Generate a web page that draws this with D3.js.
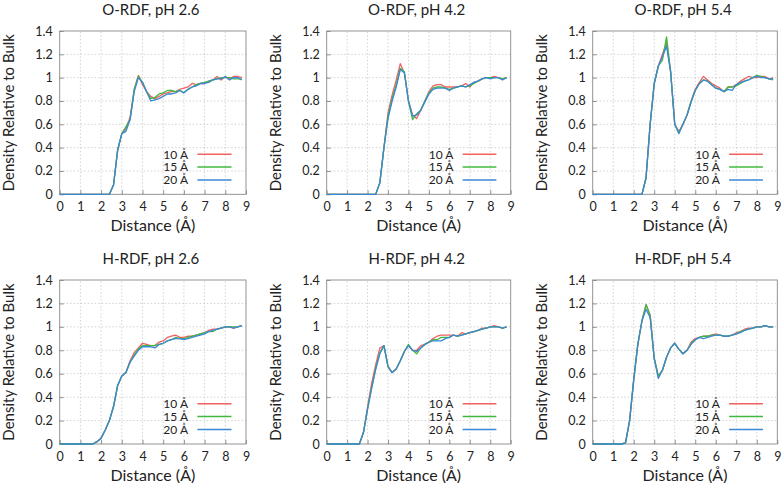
<!DOCTYPE html>
<html><head><meta charset="utf-8">
<script src="https://cdn.jsdelivr.net/npm/d3@7"></script>
<style>body{margin:0;background:#fff}svg{display:block}text{font-family:Lato,"Open Sans",sans-serif;fill:#222}</style>
</head><body><svg id="c" width="781" height="483"></svg>
<script>
const distance = [0,0.2,0.4,0.6,0.8,1.0,1.2,1.4,1.6,1.8,2.0,2.2,2.4,2.6,2.8,3.0,3.2,3.4,3.6,3.8,4.0,4.2,4.4,4.6,4.8,5.0,5.2,5.4,5.6,5.8,6.0,6.2,6.4,6.6,6.8,7.0,7.2,7.4,7.6,7.8,8.0,8.2,8.4,8.6,8.8];
const seriesNames = ["10 Å","15 Å","20 Å"];
const seriesColors = ["#f06262","#40b840","#3a88d6"];
const panelTitles = ["O-RDF, pH 2.6","O-RDF, pH 4.2","O-RDF, pH 5.4","H-RDF, pH 2.6","H-RDF, pH 4.2","H-RDF, pH 5.4"];
const xTicks = [0,1,2,3,4,5,6,7,8,9];
const yTicks = [0,0.2,0.4,0.6,0.8,1,1.2,1.4];

// O-RDF pH 2.6
const o26_10 = [0,0,0,0,0,0,0,0,0,0,0,0,0,0.08,0.38,0.52,0.56,0.66,0.90,1.02,0.94,0.88,0.84,0.82,0.84,0.86,0.87,0.88,0.88,0.90,0.91,0.92,0.95,0.94,0.95,0.95,0.97,0.98,1.01,0.98,1.01,0.99,1.01,1.01,1.00];
const o26_15 = [0,0,0,0,0,0,0,0,0,0,0,0,0,0.08,0.38,0.52,0.58,0.64,0.90,1.01,0.96,0.88,0.82,0.83,0.86,0.87,0.89,0.89,0.88,0.89,0.87,0.90,0.92,0.94,0.95,0.96,0.97,0.98,0.99,1.00,1.00,1.00,0.99,0.99,0.99];
const o26_20 = [0,0,0,0,0,0,0,0,0,0,0,0,0,0.08,0.38,0.52,0.54,0.64,0.88,1.00,0.96,0.88,0.80,0.81,0.82,0.84,0.86,0.86,0.87,0.89,0.87,0.90,0.92,0.93,0.95,0.95,0.96,0.98,0.99,0.99,1.01,0.98,1.00,1.00,0.98];
// O-RDF pH 4.2
const o42_10 = [0,0,0,0,0,0,0,0,0,0,0,0,0,0.10,0.40,0.70,0.85,0.98,1.12,1.04,0.80,0.68,0.65,0.72,0.80,0.88,0.93,0.94,0.94,0.92,0.92,0.92,0.92,0.93,0.95,0.92,0.96,0.97,0.99,1.00,1.00,1.01,1.00,0.99,1.00];
const o42_15 = [0,0,0,0,0,0,0,0,0,0,0,0,0,0.10,0.40,0.67,0.82,0.94,1.08,1.05,0.80,0.64,0.69,0.72,0.80,0.87,0.91,0.92,0.92,0.91,0.90,0.91,0.92,0.93,0.92,0.93,0.95,0.97,0.99,1.00,1.00,1.00,1.00,0.99,1.00];
const o42_20 = [0,0,0,0,0,0,0,0,0,0,0,0,0,0.10,0.40,0.65,0.80,0.92,1.07,1.04,0.80,0.67,0.68,0.72,0.79,0.86,0.90,0.91,0.91,0.91,0.89,0.91,0.92,0.93,0.92,0.94,0.96,0.97,0.99,1.00,0.99,1.00,1.00,0.98,1.00];
// O-RDF pH 5.4
const o54_10 = [0,0,0,0,0,0,0,0,0,0,0,0,0,0.14,0.60,0.95,1.10,1.20,1.30,1.05,0.60,0.54,0.60,0.68,0.80,0.90,0.96,1.01,0.98,0.95,0.93,0.91,0.88,0.92,0.92,0.94,0.97,0.99,1.01,1.00,1.00,1.01,1.01,0.99,1.00];
const o54_15 = [0,0,0,0,0,0,0,0,0,0,0,0,0,0.14,0.60,0.95,1.10,1.15,1.35,1.05,0.60,0.53,0.60,0.68,0.80,0.89,0.95,0.98,0.97,0.94,0.91,0.90,0.88,0.92,0.92,0.93,0.95,0.97,0.98,1.00,1.02,1.01,1.00,0.99,0.98];
const o54_20 = [0,0,0,0,0,0,0,0,0,0,0,0,0,0.14,0.60,0.95,1.10,1.18,1.27,1.05,0.60,0.52,0.60,0.68,0.79,0.89,0.95,0.98,0.97,0.94,0.91,0.90,0.88,0.90,0.89,0.94,0.96,0.97,0.98,1.00,1.01,1.00,1.00,0.99,0.99];
// H-RDF pH 2.6
const h26_10 = [0,0,0,0,0,0,0,0,0,0.02,0.05,0.12,0.20,0.32,0.50,0.58,0.61,0.71,0.78,0.82,0.86,0.85,0.84,0.84,0.87,0.88,0.91,0.92,0.93,0.91,0.91,0.92,0.92,0.93,0.94,0.95,0.97,0.98,0.98,0.99,1.00,1.00,0.99,1.00,1.01];
const h26_15 = [0,0,0,0,0,0,0,0,0,0.02,0.05,0.12,0.20,0.32,0.50,0.58,0.61,0.70,0.76,0.81,0.84,0.84,0.84,0.84,0.85,0.86,0.88,0.89,0.91,0.90,0.90,0.91,0.92,0.93,0.94,0.95,0.96,0.96,0.98,0.99,1.00,1.00,1.00,1.00,1.01];
const h26_20 = [0,0,0,0,0,0,0,0,0,0.02,0.05,0.12,0.20,0.32,0.50,0.58,0.61,0.70,0.75,0.80,0.83,0.83,0.83,0.82,0.85,0.86,0.88,0.89,0.90,0.90,0.89,0.90,0.91,0.92,0.93,0.94,0.96,0.97,0.98,0.99,1.00,1.00,0.99,1.00,1.01];
// H-RDF pH 4.2
const h42_10 = [0,0,0,0,0,0,0,0,0,0.10,0.32,0.52,0.68,0.82,0.84,0.66,0.61,0.64,0.71,0.79,0.84,0.80,0.80,0.84,0.85,0.87,0.90,0.92,0.93,0.93,0.93,0.93,0.92,0.95,0.94,0.95,0.96,0.97,0.99,0.99,1.00,1.01,1.00,0.99,1.00];
const h42_15 = [0,0,0,0,0,0,0,0,0,0.10,0.30,0.48,0.65,0.78,0.84,0.66,0.61,0.64,0.71,0.79,0.85,0.80,0.77,0.82,0.85,0.87,0.89,0.89,0.91,0.91,0.91,0.93,0.92,0.93,0.94,0.95,0.96,0.97,0.98,0.99,1.00,1.00,1.00,0.99,1.00];
const h42_20 = [0,0,0,0,0,0,0,0,0,0.10,0.30,0.48,0.64,0.77,0.84,0.66,0.61,0.64,0.71,0.79,0.84,0.80,0.79,0.82,0.85,0.87,0.88,0.88,0.88,0.90,0.91,0.93,0.92,0.93,0.94,0.95,0.96,0.97,0.98,0.99,1.00,1.00,1.00,0.99,1.00];
// H-RDF pH 5.4
const h54_10 = [0,0,0,0,0,0,0,0,0.01,0.20,0.55,0.85,1.05,1.19,1.10,0.73,0.58,0.63,0.74,0.82,0.86,0.81,0.77,0.80,0.87,0.90,0.91,0.92,0.92,0.93,0.94,0.93,0.92,0.92,0.93,0.95,0.96,0.98,0.99,0.99,1.00,1.00,1.01,1.00,1.00];
const h54_15 = [0,0,0,0,0,0,0,0,0.01,0.20,0.55,0.85,1.05,1.19,1.10,0.73,0.58,0.63,0.74,0.82,0.86,0.81,0.77,0.80,0.86,0.89,0.91,0.92,0.92,0.93,0.93,0.93,0.92,0.92,0.93,0.94,0.96,0.97,0.98,0.99,1.00,1.00,1.01,1.00,1.00];
const h54_20 = [0,0,0,0,0,0,0,0,0.01,0.20,0.55,0.85,1.05,1.15,1.08,0.73,0.56,0.63,0.74,0.82,0.86,0.81,0.77,0.80,0.85,0.89,0.91,0.90,0.91,0.92,0.93,0.93,0.92,0.92,0.93,0.94,0.95,0.97,0.98,0.99,1.00,1.00,1.01,1.00,1.00];

const panelSeries = [
  [o26_10,o26_15,o26_20],[o42_10,o42_15,o42_20],[o54_10,o54_15,o54_20],
  [h26_10,h26_15,h26_20],[h42_10,h42_15,h42_20],[h54_10,h54_15,h54_20]
];

const svg = d3.select("#c");
const colX = [[59.7,246],[326.7,510.7],[592.7,777.3]];
const rowY = [[194.3,31],[444,280]];

panelSeries.forEach((ser,i)=>{
  const col = i%3, row = Math.floor(i/3);
  const x = d3.scaleLinear().domain([0,9]).range(colX[col]);
  const y = d3.scaleLinear().domain([0,1.4]).range(rowY[row]);
  const g = svg.append("g");
  const [x0,x1] = colX[col], [y0,y1] = rowY[row];
  g.selectAll(".gx").data(xTicks.slice(1,-1)).join("line")
    .attr("x1",d=>x(d)).attr("x2",d=>x(d)).attr("y1",y0).attr("y2",y1)
    .attr("stroke","#c8c8c8").attr("stroke-width",0.8).attr("stroke-dasharray","1.5,2");
  g.selectAll(".gy").data(yTicks.slice(1,-1)).join("line")
    .attr("x1",x0).attr("x2",x1).attr("y1",d=>y(d)).attr("y2",d=>y(d))
    .attr("stroke","#c8c8c8").attr("stroke-width",0.8).attr("stroke-dasharray","1.5,2");
  const ax = g.append("g").attr("transform",`translate(0,${y0})`)
    .call(d3.axisBottom(x).tickValues(xTicks).tickSize(-4).tickPadding(8).tickFormat(d3.format("d")));
  const ay = g.append("g").attr("transform",`translate(${x0},0)`)
    .call(d3.axisLeft(y).tickValues(yTicks).tickSize(-4).tickPadding(7).tickFormat(d=>String(+d.toFixed(1))));
  [ax,ay].forEach(a=>{
    a.select(".domain").remove();
    a.selectAll(".tick line").attr("stroke","#777").attr("stroke-width",0.8);
    a.selectAll(".tick text").attr("font-size",12.5).attr("fill","#222").attr("font-family","Lato, 'Open Sans', sans-serif");
  });
  g.append("rect").attr("x",x0).attr("y",y1).attr("width",x1-x0).attr("height",y0-y1)
    .attr("fill","none").attr("stroke","#888").attr("stroke-width",0.9);
  const line = d3.line().x((d,j)=>x(distance[j])).y(d=>y(d));
  ser.forEach((vals,k)=>{
    g.append("path").datum(vals).attr("d",line).attr("fill","none")
      .attr("stroke",seriesColors[k]).attr("stroke-width",1.3).attr("stroke-linejoin","round");
  });
  seriesNames.forEach((nm,k)=>{
    const ly = y(0.4) + 6.5 + k*12.9;
    g.append("text").attr("x",x(6.2)).attr("y",ly+4.4).attr("text-anchor","end")
      .attr("font-size",12).text(nm);
    g.append("line").attr("x1",x(6.65)).attr("x2",x(8.3)).attr("y1",ly).attr("y2",ly)
      .attr("stroke",seriesColors[k]).attr("stroke-width",1.5);
  });
  g.append("text").attr("x",(x0+x1)/2-2).attr("y",y1-16).attr("text-anchor","middle")
    .attr("font-size",15).text(panelTitles[i]);
  g.append("text").attr("x",(x0+x1)/2).attr("y",y0+37).attr("text-anchor","middle")
    .attr("font-size",16).text("Distance (Å)");
  g.append("text").attr("transform",`translate(${x0-45.5},${(y0+y1)/2}) rotate(-90)`)
    .attr("text-anchor","middle").attr("font-size",15).text("Density Relative to Bulk");
});
</script></body></html>
